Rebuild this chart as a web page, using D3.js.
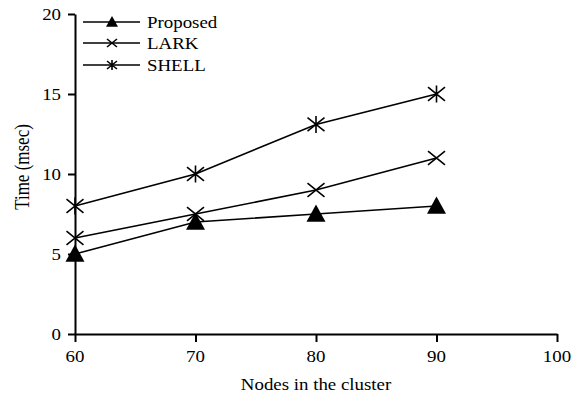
<!DOCTYPE html>
<html><head><meta charset="utf-8">
<script src="https://cdn.jsdelivr.net/npm/d3@7"></script>
<style>body{margin:0;background:#fff}svg{display:block}text{font-family:"Liberation Serif","Times New Roman",serif;fill:#000}</style>
</head><body><div id="chart"></div>
<script>
const nodes = [60, 70, 80, 90];
const proposed = [5, 7, 7.5, 8];
const lark = [6, 7.5, 9, 11];
const shell = [8, 10, 13.1, 15];
const seriesNames = ["Proposed", "LARK", "SHELL"];
const xTicks = [60, 70, 80, 90, 100];
const yTicks = [0, 5, 10, 15, 20];

const W = 576, H = 397;
const svg = d3.select("#chart").append("svg").attr("width", W).attr("height", H);
const x = d3.scaleLinear().domain([60, 100]).range([75, 557]);
const y = d3.scaleLinear().domain([0, 20]).range([334, 14]);
const SX = 1.18, FS = 16;

function stext(g, tx, ty, str, anchor, size) {
  g.append("text").attr("transform", `translate(${tx},${ty}) scale(${SX},1)`)
    .attr("text-anchor", anchor).style("font-size", (size||FS) + "px").text(str);
}

// axes
const yAxis = d3.axisLeft(y).tickValues(yTicks).tickSize(7).tickSizeOuter(0).tickFormat("");
const xAxis = d3.axisBottom(x).tickValues(xTicks).tickSize(8).tickSizeOuter(0).tickFormat("");
const gy = svg.append("g").attr("transform", "translate(75,0)").call(yAxis);
const gx = svg.append("g").attr("transform", "translate(0,334)").call(xAxis);
[gy, gx].forEach(g => { g.selectAll("path,line").attr("stroke", "#000").attr("stroke-width", 2); });
yTicks.forEach(v => stext(svg, 61, y(v) + 5.5, String(v), "end"));
xTicks.forEach(v => stext(svg, x(v), 362, String(v), "middle"));
stext(svg, x(80), 390, "Nodes in the cluster", "middle");
svg.append("text").attr("transform", `translate(29,167) rotate(-90) scale(1,${SX})`)
  .attr("text-anchor", "middle").style("font-size", "17px").text("Time (msec)");

// markers
function marker(g, type, cx, cy, s) {
  if (type === 0) {
    const h = s * 0.9;
    g.append("path").attr("d", `M${cx},${cy - h*0.55}L${cx + s/2},${cy + h*0.45}L${cx - s/2},${cy + h*0.45}Z`).attr("fill", "#000");
  } else if (type === 1) {
    const r = s / 2;
    g.append("path").attr("d", `M${cx-r},${cy-r*0.8}L${cx+r},${cy+r*0.8}M${cx-r},${cy+r*0.8}L${cx+r},${cy-r*0.8}`)
      .attr("stroke", "#000").attr("stroke-width", 1.6).attr("fill", "none");
  } else {
    const r = s / 2;
    g.append("path").attr("d", `M${cx-r},${cy-r*0.8}L${cx+r},${cy+r*0.8}M${cx-r},${cy+r*0.8}L${cx+r},${cy-r*0.8}M${cx},${cy-r}L${cx},${cy+r}`)
      .attr("stroke", "#000").attr("stroke-width", 1.6).attr("fill", "none");
  }
}

const series = [proposed, lark, shell];
const line = d3.line().x((d, i) => x(nodes[i])).y(d => y(d));
series.forEach((vals, k) => {
  svg.append("path").datum(vals).attr("d", line).attr("fill", "none").attr("stroke", "#000").attr("stroke-width", 1.6);
  vals.forEach((v, i) => marker(svg, k, x(nodes[i]), y(v), k === 0 ? 19 : 17));
});

// legend
const legY = [22, 43, 65];
seriesNames.forEach((n, k) => {
  svg.append("line").attr("x1", 83).attr("x2", 140).attr("y1", legY[k]).attr("y2", legY[k]).attr("stroke", "#000").attr("stroke-width", 1.6);
  marker(svg, k, 112, legY[k], k === 0 ? 12 : 10);
  stext(svg, 147, legY[k] + 6, n, "start");
});
</script></body></html>
